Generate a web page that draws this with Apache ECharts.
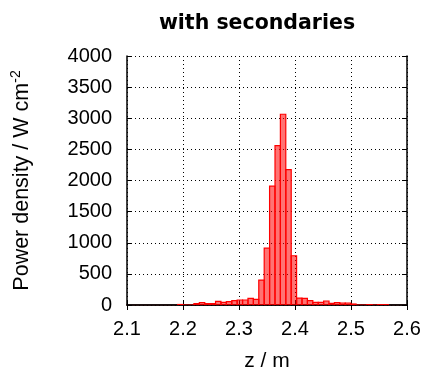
<!DOCTYPE html>
<html>
<head>
<meta charset="utf-8">
<script src="https://cdn.jsdelivr.net/npm/echarts@6/dist/echarts.min.js"></script>
<style>html,body{margin:0;padding:0;background:#fff}#c{width:428px;height:369px}</style>
</head>
<body>
<div id="c"></div>
<script>
const titleText = 'with secondaries';
const xName = 'z / m';
const binWidth = 0.00965;
const binLeft = [2.1906,2.2002,2.2099,2.2195,2.2292,2.2388,2.2485,2.2581,2.2678,2.2774,2.2871,2.2967,2.3064,2.3160,2.3257,2.3353,2.3450,2.3546,2.3643,2.3739,2.3836,2.3932,2.4029,2.4125,2.4222,2.4318,2.4415,2.4511,2.4608,2.4704,2.4801,2.4897,2.4994,2.5090,2.5187,2.5283,2.5380,2.5476,2.5573];
const power = [8,0,0,21,37,21,21,59,43,53,70,80,80,107,91,401,914,1909,2561,3064,2176,791,112,107,70,43,43,64,27,37,32,32,16,0,0,5,0,5,5];
const xTicks = [2.1,2.2,2.3,2.4,2.5,2.6];
const yTicks = [0,500,1000,1500,2000,2500,3000,3500,4000];

const font = '"Liberation Sans", Arial, sans-serif';
const chart = echarts.init(document.getElementById('c'), null, {renderer:'canvas'});
const data = binLeft.map((x,i)=>[x, power[i]]);
const splitStyle = {show:true, lineStyle:{color:'#000', type:[1,3], width:1}};
chart.setOption({
  animation:false,
  backgroundColor:'#fff',
  title:{text:titleText, left:252, textAlign:'center', top:8,
    textStyle:{fontFamily:'"DejaVu Sans", sans-serif', fontWeight:'bold', fontSize:20.5, color:'#000'}},
  grid:{left:127, right:21, top:56, bottom:64, containLabel:false, outerBoundsMode:'none'},
  xAxis:[{
    type:'value', min:xTicks[0], max:xTicks[xTicks.length-1], interval:0.1,
    axisLine:{show:true, onZero:false, lineStyle:{color:'#4a0808', width:1.5}},
    axisTick:{show:true, inside:true, length:5, lineStyle:{color:'#000'}},
    axisLabel:{fontFamily:font, fontSize:20, color:'#000', margin:14, formatter:v=>v.toFixed(1)},
    splitLine:splitStyle,
    name:xName, nameLocation:'middle', nameGap:46,
    nameTextStyle:{fontFamily:font, fontSize:21, color:'#000'}
  },{
    type:'value', position:'top', min:xTicks[0], max:xTicks[xTicks.length-1], interval:0.1,
    axisLine:{show:true, lineStyle:{color:'#000', width:1.5}},
    axisTick:{show:true, inside:true, length:5, lineStyle:{color:'#000'}},
    axisLabel:{show:false}, splitLine:{show:false}
  }],
  yAxis:[{
    type:'value', min:yTicks[0], max:yTicks[yTicks.length-1], interval:500,
    axisLine:{show:true, onZero:false, lineStyle:{color:'#000', width:1.5}},
    axisTick:{show:true, inside:true, length:5, lineStyle:{color:'#000'}},
    axisLabel:{fontFamily:font, fontSize:20, color:'#000', margin:15, formatter:v=>String(v)},
    splitLine:splitStyle,
    name:'{a|Power density / W cm}{s|-2}', nameLocation:'middle', nameGap:92, nameRotate:90,
    nameTextStyle:{rich:{
      a:{fontFamily:font, fontSize:21.5, color:'#000'},
      s:{fontFamily:font, fontSize:14, color:'#000', verticalAlign:'top', padding:[0,0,12,0]}
    }}
  },{
    type:'value', position:'right', min:yTicks[0], max:yTicks[yTicks.length-1], interval:500,
    axisLine:{show:true, lineStyle:{color:'#000', width:1.5}},
    axisTick:{show:true, inside:true, length:5, lineStyle:{color:'#000'}},
    axisLabel:{show:false}, splitLine:{show:false}
  }],
  series:[{
    type:'custom', clip:true, xAxisIndex:0, yAxisIndex:0,
    data:data,
    renderItem:function(params, api){
      const x0 = api.value(0), v = api.value(1);
      const p0 = api.coord([x0, v]);
      const p1 = api.coord([x0 + binWidth, 0]);
      return {type:'rect', shape:{x:p0[0], y:p0[1], width:p1[0]-p0[0], height:p1[1]-p0[1]},
        style:{fill:'rgba(255,0,0,0.55)', stroke:'#ff0000', lineWidth:1.2}};
    }
  }]
});
</script>
</body>
</html>
